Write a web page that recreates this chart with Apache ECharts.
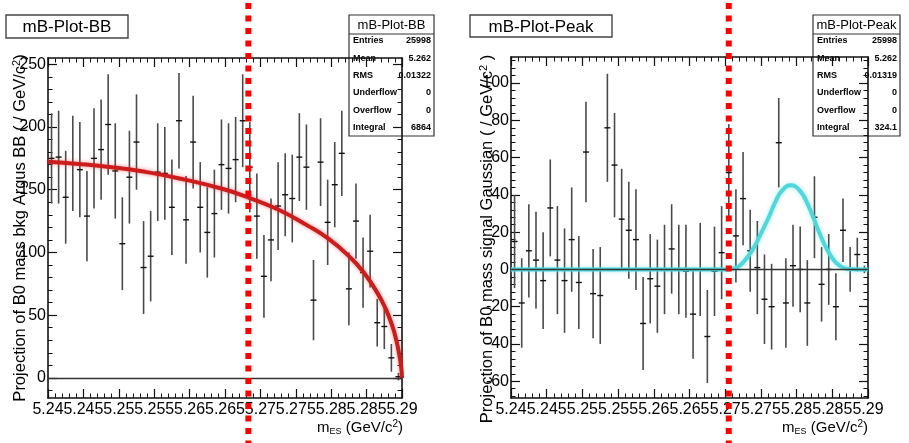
<!DOCTYPE html>
<html>
<head>
<meta charset="utf-8">
<script src="https://cdn.jsdelivr.net/npm/echarts@6/dist/echarts.min.js"></script>
<style>
  html, body { margin: 0; padding: 0; background: #fff; }
  #chart { width: 909px; height: 443px; }
</style>
</head>
<body>
<div id="chart"></div>
<script>
// m_ES histogram binning (GeV/c^2)
const binLow = 5.24;
const binWidth = 0.001;

// Background projection (Argus BB): bin contents and their errors
const bbCounts = [175, 176, 144, 171, 166, 129, 175, 182, 202, 165,
                  107, 160, 188, 88, 97, 164, 163, 136, 205, 126,
                  188, 136, 116, 131, 170, 167, 174, 205, 168, 129,
                  81, 110, 137, 146, 143, 176, 168, 62, 172, 124,
                  154, 179, 71, 125, 84, 101, 44, 41, 16, 1];
const bbErrors = [36, 37, 37, 38, 38, 36, 40, 40, 40, 38,
                  37, 37, 38, 37, 36, 39, 37, 38, 38, 35,
                  37, 36, 36, 35, 36, 36, 34, 37, 36, 34,
                  33, 33, 35, 33, 35, 35, 34, 32, 35, 34,
                  34, 34, 29, 30, 28, 29, 19, 18, 11, 3];

// Argus fit curve, sampled along m_ES
const argusCurve = [[5.2400, 172.3], [5.2443, 170.6], [5.2490, 168.0], [5.2537, 164.3],
                    [5.2584, 159.2], [5.2646, 150.8], [5.2685, 143.4], [5.2725, 134.2],
                    [5.2765, 122.0], [5.2796, 111.0], [5.2826, 96.5], [5.2846, 84.0],
                    [5.2866, 67.0], [5.2877, 55.0], [5.2886, 42.0], [5.2892, 30.0],
                    [5.2896, 19.0], [5.2899, 8.0], [5.2900, 0]];

// Signal projection (Gaussian): bin contents and their errors
const peakCounts = [15, -18, 10, 5, -6, 33, 5, -6, 16, -7,
                    63, -13, -14, 76, 56, 27, 21, 16, -29, -5,
                    -9, 0, 11, 0, -1, -24, 0, -36, -1, 9,
                    52, 18, 38, 10, 1, -16, -20, 68, -18, 2,
                    0, -18, 28, -8, 0, -20, 21, 0, 8, 0];
const peakErrors = [25, 24, 25, 26, 26, 26, 29, 28, 28, 25,
                    27, 24, 26, 29, 28, 27, 26, 27, 25, 24,
                    25, 24, 24, 24, 25, 24, 25, 25, 24, 25,
                    26, 25, 25, 22, 25, 24, 23, 24, 24, 22,
                    23, 23, 22, 20, 19, 18, 17, 12, 9, 2];

// Gaussian fit curve, sampled along m_ES
const gaussCurve = [[5.2400, 0], [5.2700, 0], [5.2714, 0.6], [5.2723, 3.0], [5.2733, 7.5], [5.2742, 13.0],
                    [5.2751, 20.0], [5.2761, 28.0], [5.2770, 36.0], [5.2779, 42.0], [5.2792, 45.2],
                    [5.2805, 42.0], [5.2815, 35.5], [5.2824, 27.3], [5.2833, 18.6], [5.2843, 10.5],
                    [5.2852, 5.0], [5.2861, 1.8], [5.2873, 0.2], [5.2885, 0], [5.2900, 0]];

// Axis ticks and labels
const xTicks = [5.24, 5.245, 5.25, 5.255, 5.26, 5.265, 5.27, 5.275, 5.28, 5.285, 5.29];
const xTickLabels = ['5.24', '5.245', '5.25', '5.255', '5.26', '5.265', '5.27', '5.275', '5.28', '5.285', '5.29'];
const bbYTicks = [0, 50, 100, 150, 200, 250];
const peakYTicks = [-60, -40, -20, 0, 20, 40, 60, 80, 100];

// Statistics boxes
const bbStats = [['Entries', '25998'], ['Mean', '5.262'], ['RMS', '0.01322'],
                 ['Underflow', '0'], ['Overflow', '0'], ['Integral', '6864']];
const peakStats = [['Entries', '25998'], ['Mean', '5.262'], ['RMS', '0.01319'],
                   ['Underflow', '0'], ['Overflow', '0'], ['Integral', '324.1']];

// Dotted cut markers on m_ES
const cutBB = 5.2683;
const cutPeak = 5.2705;

const xMin = 5.24, xMax = 5.29;
const FONT = '"Liberation Sans", Arial, Helvetica, sans-serif';
const INK = '#111';

const xMinor = Array.from({ length: 51 }, (_, i) => +(xMin + i * binWidth).toFixed(3));
const bbYMinor = Array.from({ length: 27 }, (_, i) => -10 + i * 10);
const peakYMinor = Array.from({ length: 46 }, (_, i) => -68 + i * 4);

const binCenter = i => +(binLow + (i + 0.5) * binWidth).toFixed(4);

function frameAxis(kind, grid, range, ticks, minor, labelFn) {
  const sides = kind === 'x' ? ['bottom', 'top'] : ['left', 'right'];
  const base = {
    type: 'value', gridIndex: grid, min: range[0], max: range[1],
    splitLine: { show: false }, axisPointer: { show: false }
  };
  const axes = [];
  sides.forEach((side, s) => {
    axes.push(Object.assign({}, base, {
      position: side,
      axisLine: { show: true, onZero: false, lineStyle: { color: INK, width: 1.6 } },
      axisTick: { show: true, inside: true, length: 9, customValues: ticks, lineStyle: { color: INK, width: 1.2 } },
      axisLabel: s === 0 ? {
        show: true, customValues: ticks, showMinLabel: true, showMaxLabel: true,
        margin: kind === 'x' ? 4 : 2, color: '#000', fontSize: 16, fontFamily: FONT,
        formatter: labelFn
      } : { show: false }
    }));
    axes.push(Object.assign({}, base, {
      position: side,
      axisLine: { show: false, onZero: false },
      axisTick: { show: true, inside: true, length: 4.5, customValues: minor, lineStyle: { color: INK, width: 1 } },
      axisLabel: { show: false }
    }));
  });
  return axes;
}

const xLabel = v => {
  const k = xTicks.findIndex(t => Math.abs(t - v) < 1e-9);
  return k >= 0 ? xTickLabels[k] : String(v);
};
const yLabel = v => String(Math.round(v));

function errorBars(params, api) {
  const x = api.value(0), y = api.value(1), e = api.value(2);
  const c = api.coord([x, y]);
  const hi = api.coord([x, y + e]);
  const lo = api.coord([x, y - e]);
  const hw = api.size([binWidth, 0])[0] * 0.42;
  return {
    type: 'group',
    children: [
      { type: 'line', shape: { x1: c[0], y1: hi[1], x2: c[0], y2: lo[1] },
        style: { stroke: '#4a4a4a', lineWidth: 1.6 } },
      { type: 'line', shape: { x1: c[0] - hw, y1: c[1], x2: c[0] + hw, y2: c[1] },
        style: { stroke: '#111', lineWidth: 1.4 } }
    ]
  };
}

const option = {
  animation: false,
  backgroundColor: '#fff',
  grid: [
    { left: 48, top: 58, width: 354, height: 340 },
    { left: 511, top: 57, width: 357, height: 341 }
  ],
  xAxis: [
    ...frameAxis('x', 0, [xMin, xMax], xTicks, xMinor, xLabel),
    ...frameAxis('x', 1, [xMin, xMax], xTicks, xMinor, xLabel)
  ],
  yAxis: [
    ...frameAxis('y', 0, [-16, 255], bbYTicks, bbYMinor, yLabel),
    ...frameAxis('y', 1, [-69, 114], peakYTicks, peakYMinor, yLabel)
  ],
  series: [
    { // zero reference line, left pad
      type: 'line', xAxisIndex: 0, yAxisIndex: 0, data: [], z: 1,
      markLine: { silent: true, symbol: 'none', label: { show: false },
        lineStyle: { color: '#333', width: 1.3, type: 'solid' }, data: [{ yAxis: 0 }] }
    },
    {
      type: 'custom', name: 'bkg', xAxisIndex: 0, yAxisIndex: 0, z: 2,
      renderItem: errorBars, encode: { x: 0, y: 1 },
      data: bbCounts.map((v, i) => [binCenter(i), v, bbErrors[i]])
    },
    {
      type: 'line', name: 'Argus', xAxisIndex: 0, yAxisIndex: 0, z: 3,
      data: argusCurve, showSymbol: false, smooth: 0.5,
      lineStyle: { color: '#cc1c1c', width: 4, shadowBlur: 4, shadowColor: 'rgba(230,60,60,0.55)' }
    },
    { // zero reference line, right pad
      type: 'line', xAxisIndex: 4, yAxisIndex: 4, data: [], z: 1,
      markLine: { silent: true, symbol: 'none', label: { show: false },
        lineStyle: { color: '#333', width: 1.3, type: 'solid' }, data: [{ yAxis: 0 }] }
    },
    {
      type: 'custom', name: 'signal', xAxisIndex: 4, yAxisIndex: 4, z: 2,
      renderItem: errorBars, encode: { x: 0, y: 1 },
      data: peakCounts.map((v, i) => [binCenter(i), v, peakErrors[i]])
    },
    {
      type: 'line', name: 'Gaussian', xAxisIndex: 4, yAxisIndex: 4, z: 3,
      data: gaussCurve, showSymbol: false, smooth: 0.5,
      lineStyle: { color: '#4fd8dc', width: 4, shadowBlur: 4, shadowColor: 'rgba(80,220,225,0.5)' }
    }
  ]
};

const chart = echarts.init(document.getElementById('chart'), null, { renderer: 'canvas' });
chart.setOption(option);

function textEl(text, x, y, size, opts) {
  return Object.assign({
    type: 'text', z: -1,
    style: Object.assign({
      text, x, y, fill: '#000',
      font: (opts && opts.weight ? opts.weight + ' ' : '') + size + 'px ' + FONT,
      align: 'left', verticalAlign: 'middle', textAlign: 'left', textVerticalAlign: 'middle'
    }, opts && opts.style)
  });
}

function titleBox(x, y, w, h, text) {
  return [
    { type: 'rect', z: -1, shape: { x, y, width: w, height: h },
      style: { fill: '#fff', stroke: '#444', lineWidth: 1.4 } },
    textEl(text, x + w / 2, y + h / 2 + 1, 17,
      { style: { align: 'center', textAlign: 'center' } })
  ];
}

function statsBox(x, y, w, title, rows) {
  const els = [
    { type: 'rect', z: -1, shape: { x, y, width: w, height: 121 },
      style: { fill: '#fff', stroke: '#333', lineWidth: 1.2 } },
    { type: 'line', z: -1, shape: { x1: x, y1: y + 19, x2: x + w, y2: y + 19 },
      style: { stroke: '#333', lineWidth: 1 } },
    textEl(title, x + w / 2, y + 10, 13, { style: { align: 'center', textAlign: 'center' } })
  ];
  rows.forEach((r, i) => {
    const ry = y + 26 + i * 17.3;
    els.push(textEl(r[0], x + 4, ry, 9, { weight: 'bold' }));
    els.push(textEl(r[1], x + w - 3, ry, 9, { weight: 'bold', style: { align: 'right', textAlign: 'right' } }));
  });
  return els;
}

function yTitle(x, y, text) {
  return {
    type: 'text', z: 5, x, y, rotation: Math.PI / 2,
    style: {
      text, x: 0, y: 0, fill: '#000', font: '16.5px ' + FONT,
      align: 'center', verticalAlign: 'middle', textAlign: 'center', textVerticalAlign: 'middle',
      rich: { sup: { fontSize: 11, fontFamily: FONT, verticalAlign: 'top', fill: '#000' } }
    }
  };
}

function xTitle(xRight, y) {
  return {
    type: 'text', z: 5,
    style: {
      text: 'm{sub|ES} (GeV/c{sup|2})', x: xRight, y, fill: '#000', font: '15px ' + FONT,
      align: 'right', verticalAlign: 'middle', textAlign: 'right', textVerticalAlign: 'middle',
      rich: {
        sub: { fontSize: 9, fontFamily: FONT, verticalAlign: 'bottom', padding: [7, 0, 0, 0], fill: '#000' },
        sup: { fontSize: 10, fontFamily: FONT, verticalAlign: 'top', padding: [0, 0, 7, 0], fill: '#000' }
      }
    }
  };
}

function cutLine(px) {
  return {
    type: 'line', z: 100,
    shape: { x1: px, y1: 3, x2: px, y2: 443 },
    style: { stroke: '#ff0000', lineWidth: 6, lineDash: [6, 6.5], lineCap: 'butt' }
  };
}

const cutBBpx = chart.convertToPixel({ xAxisIndex: 0 }, cutBB);
const cutPeakPx = chart.convertToPixel({ xAxisIndex: 4 }, cutPeak);

chart.setOption({
  graphic: [
    ...titleBox(6, 15, 122, 23, 'mB-Plot-BB'),
    ...titleBox(470, 15, 142, 22, 'mB-Plot-Peak'),
    ...statsBox(349, 15, 85, 'mB-Plot-BB', bbStats),
    ...statsBox(813, 15, 87, 'mB-Plot-Peak', peakStats),
    yTitle(20, 228, 'Projection of B0 mass bkg Argus BB ( / GeV/c{sup|2})'),
    yTitle(487, 239, 'Projection of B0 mass signal Gaussian ( / GeV/c{sup|2} )'),
    xTitle(403, 428),
    xTitle(868, 428),
    cutLine(cutBBpx),
    cutLine(cutPeakPx)
  ]
});
</script>
</body>
</html>
